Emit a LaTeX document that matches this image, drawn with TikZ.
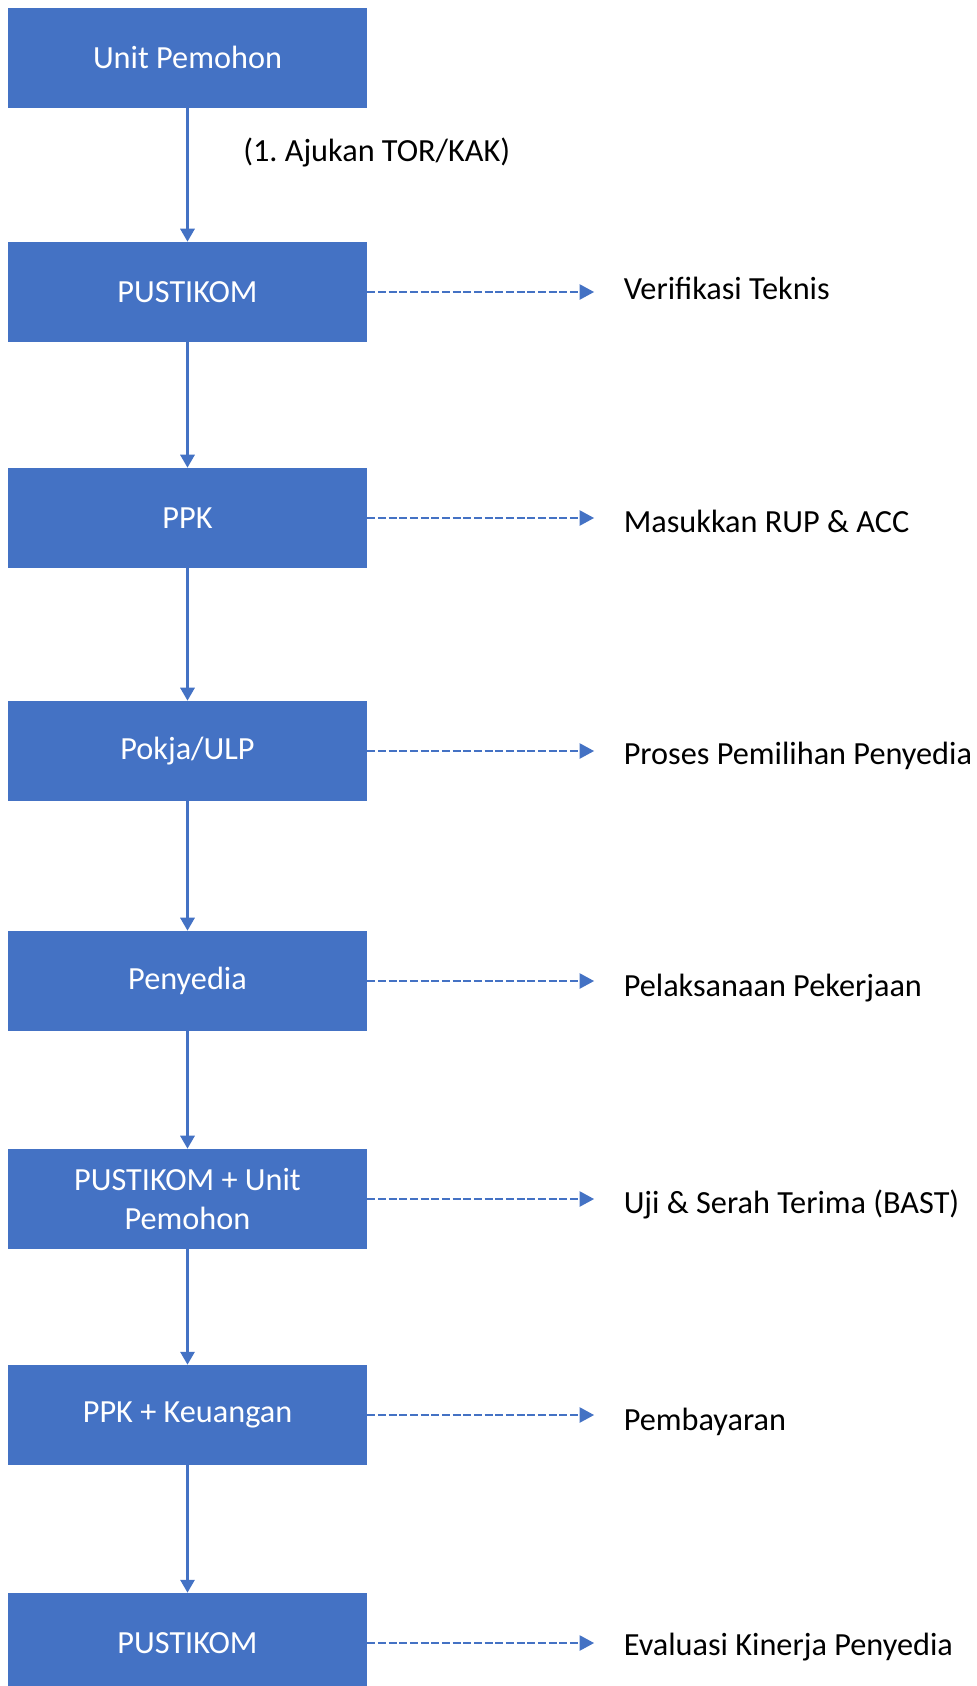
\documentclass[tikz,border=0pt]{standalone}
\usepackage{fontspec}
\setmainfont{Carlito}
\usetikzlibrary{arrows.meta}
\definecolor{boxcol}{RGB}{68,114,196}
\definecolor{labelcol}{RGB}{0,0,0}
\frenchspacing

\begin{document}
\begin{tikzpicture}[x=0.75pt, y=-0.75pt,
		font=\fontsize{24.2}{29.3}\selectfont,
		actor/.style={fill=boxcol, text=white, minimum width=269.25pt,
				minimum height=75pt, align=center, inner sep=0pt},
		flow/.style={boxcol, line width=2.25pt,
				-{Triangle[length=9.75pt, width=10.5pt]}},
		task/.style={boxcol, line width=2.1pt, dash pattern=on 6pt off 2pt,
				-{Triangle[length=11pt, width=11.25pt]}, shorten >=22pt},
		tasklabel/.style={anchor=base west, inner sep=0pt, text=labelcol}]

	\useasboundingbox (0,0) rectangle (976,1686);

	% =============================================
	%  ACTORS (left column)
	% =============================================

	\foreach \nm/\cy/\txt in {b1/57.5/Unit Pemohon, b2/292/PUSTIKOM, b3/518/PPK,
			b4/751/{Pokja/ULP}, b5/981/Penyedia, b6/1199/{PUSTIKOM + Unit\\Pemohon},
			b7/1415/PPK + Keuangan, b8/1643/PUSTIKOM} {
			\node[actor] (\nm) at (187.5,\cy) {\txt};
		}

	% --- Flow between actors ---
	\foreach \a/\b in {b1/b2, b2/b3, b3/b4, b4/b5, b5/b6, b6/b7, b7/b8} {
			\draw[flow] (\a) -- (\b);
		}

	% Step label on first arrow
	\node[tasklabel] (ajukan) at (243,161) {(1. Ajukan TOR/KAK)};

	% =============================================
	%  TASKS (right column)
	% =============================================

	\foreach \nm/\by/\txt in {b2/299/Verifikasi Teknis, b3/532.5/Masukkan RUP \& ACC,
			b4/764.5/Proses Pemilihan Penyedia, b5/996.7/Pelaksanaan Pekerjaan,
			b6/1213/Uji \& Serah Terima (BAST), b7/1430/Pembayaran,
			b8/1655.6/Evaluasi Kinerja Penyedia} {
			\node[tasklabel] (t\nm) at (623.5,\by) {\txt};
			\draw[task] (\nm.east) -- (\nm.east -| t\nm.west);
		}

\end{tikzpicture}
\end{document}
